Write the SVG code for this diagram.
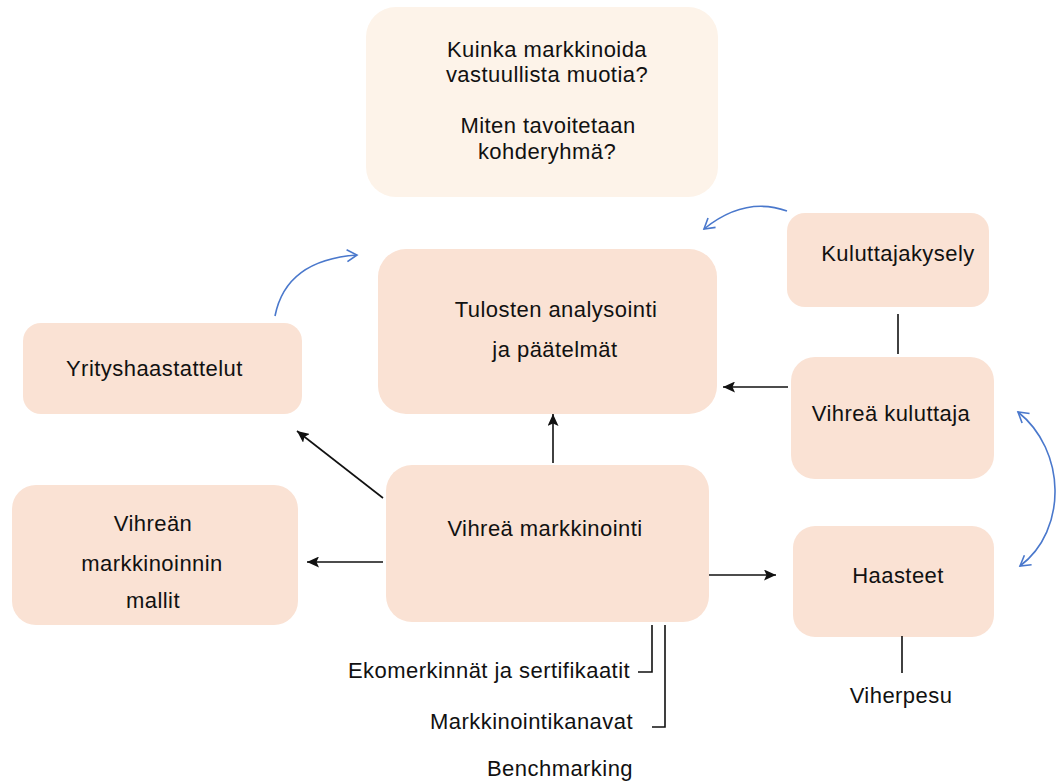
<svg xmlns="http://www.w3.org/2000/svg" width="1056" height="782" viewBox="0 0 1056 782">
<style>
.box{fill:#fae2d4}
.top{fill:#fdf3e9}
text{font-family:"Liberation Sans",Arial,Helvetica,sans-serif;font-size:22px;letter-spacing:0.45px;fill:#111}
.c{text-anchor:middle}
.k{stroke:#111;stroke-width:1.6;fill:none}
.b{stroke:#4a78cc;stroke-width:1.6;fill:none}
</style>
<defs>
<marker id="ah" markerUnits="userSpaceOnUse" markerWidth="13" markerHeight="11" refX="12" refY="5.5" orient="auto">
<path d="M0,0 L12,5.5 L0,11 L2.5,5.5 z" fill="#111"/>
</marker>
<marker id="bh" markerUnits="userSpaceOnUse" markerWidth="14" markerHeight="14" refX="11" refY="7" orient="auto-start-reverse">
<path d="M1,1 L11,7 L1,13" fill="none" stroke="#4a78cc" stroke-width="1.6"/>
</marker>
</defs>
<rect width="1056" height="782" fill="#fff"/>

<g id="question">
<rect class="top" x="366" y="7" width="352" height="190" rx="30"/>
<text class="c" x="547" y="57">Kuinka markkinoida</text>
<text class="c" x="547" y="82">vastuullista muotia?</text>
<text class="c" x="548" y="133">Miten tavoitetaan</text>
<text class="c" x="547" y="159">kohderyhmä?</text>
</g>

<g id="tulosten">
<rect class="box" x="378" y="249" width="339" height="165" rx="28"/>
<text class="c" x="556" y="317">Tulosten analysointi</text>
<text class="c" x="555" y="357">ja päätelmät</text>
</g>

<g id="yritys">
<rect class="box" x="23" y="323" width="279" height="91" rx="18"/>
<text x="66" y="376">Yrityshaastattelut</text>
</g>

<g id="mallit">
<rect class="box" x="12" y="485" width="286" height="140" rx="24"/>
<text class="c" x="153" y="531">Vihreän</text>
<text class="c" x="152" y="571">markkinoinnin</text>
<text class="c" x="153" y="608">mallit</text>
</g>

<g id="vihrea-markkinointi">
<rect class="box" x="386" y="465" width="323" height="157" rx="26"/>
<text class="c" x="545" y="536">Vihreä markkinointi</text>
</g>

<g id="kuluttajakysely">
<rect class="box" x="787" y="213" width="202" height="94" rx="18"/>
<text class="c" x="898" y="261">Kuluttajakysely</text>
</g>

<g id="vihrea-kuluttaja">
<rect class="box" x="791" y="357" width="203" height="122" rx="24"/>
<text class="c" x="891" y="421">Vihreä kuluttaja</text>
</g>

<g id="haasteet">
<rect class="box" x="793" y="526" width="201" height="111" rx="22"/>
<text class="c" x="898" y="583">Haasteet</text>
</g>

<g id="labels">
<text x="348" y="678">Ekomerkinnät ja sertifikaatit</text>
<text x="430" y="729">Markkinointikanavat</text>
<text x="487" y="776">Benchmarking</text>
<text class="c" x="901" y="703">Viherpesu</text>
</g>

<g id="connectors">
<path class="k" d="M553,463 L553,414" marker-end="url(#ah)"/>
<path class="k" d="M383,498 L297,431" marker-end="url(#ah)"/>
<path class="k" d="M383,562 L307,562" marker-end="url(#ah)"/>
<path class="k" d="M709,575 L776,575" marker-end="url(#ah)"/>
<path class="k" d="M788,387 L723,387" marker-end="url(#ah)"/>
<path class="k" d="M898,314 L898,354"/>
<path class="k" d="M902,636 L902,673"/>
<path class="k" d="M652,625 L652,672 L638,672"/>
<path class="k" d="M665,625 L665,727 L652,727"/>
<path class="b" d="M787,211 Q745,196 704,229" marker-end="url(#bh)"/>
<path class="b" d="M275,316 Q286,260 357,255" marker-end="url(#bh)"/>
<path class="b" d="M1018,412 C1066,450 1068,530 1020,566" marker-start="url(#bh)" marker-end="url(#bh)"/>
</g>
</svg>
